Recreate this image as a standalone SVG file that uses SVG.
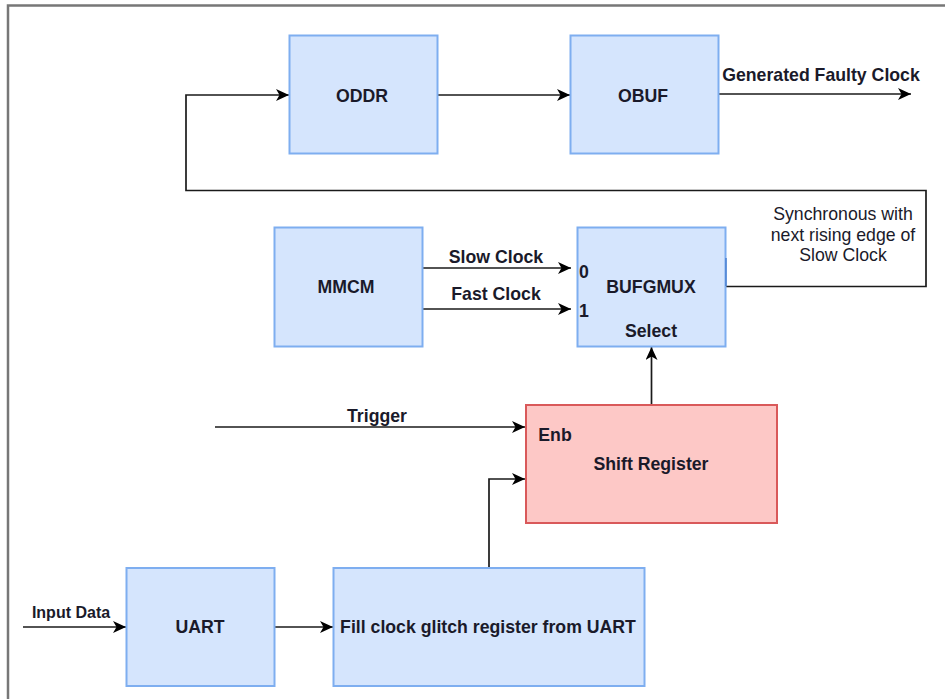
<svg xmlns="http://www.w3.org/2000/svg" width="945" height="699" viewBox="0 0 945 699">
<style>
.b{fill:#d5e5fd;stroke:#7eaef0;stroke-width:2}
.r{fill:#fdc8c6;stroke:#d9595a;stroke-width:2}
.c{fill:none;stroke:#1a1a1a;stroke-width:1.7}
.a{marker-end:url(#h)}
text{font-family:"Liberation Sans",Arial,sans-serif;font-size:17.700px;font-weight:700;fill:#1a1a2a;text-anchor:middle}
.n{font-weight:400}
.s{font-size:16px}
</style>
<defs><marker id="h" viewBox="0 0 14 12" refX="13" refY="6" markerWidth="14" markerHeight="12" markerUnits="userSpaceOnUse" orient="auto"><path d="M0 0L13 6L0 12L3.500 6Z" fill="#000"/></marker></defs>
<rect width="945" height="699" fill="#fff"/>
<path d="M8 699V5.500H945" fill="none" stroke="#777" stroke-width="2.500"/>
<g id="connectors">
<path class="c a" d="M437 95H570"/>
<path class="c a" d="M718 94H911"/>
<path class="c a" d="M726 286.500H926V190.500H186V95H289"/>
<path class="c a" d="M422 268H571"/>
<path class="c a" d="M422 309H571"/>
<path class="c a" d="M651.500 404V347"/>
<path class="c a" d="M215 427H525"/>
<path class="c a" d="M489 568V479H525"/>
<path class="c a" d="M23 627H126"/>
<path class="c a" d="M274 627H333"/>
</g>
<g id="oddr"><rect class="b" x="289.500" y="35.500" width="148" height="118"/><text x="362" y="102">ODDR</text></g>
<g id="obuf"><rect class="b" x="570.500" y="35.500" width="148" height="118"/><text x="643" y="102">OBUF</text></g>
<g id="mmcm"><rect class="b" x="274.500" y="227.500" width="148" height="119"/><text x="346" y="293">MMCM</text></g>
<g id="bufgmux"><rect class="b" x="577.500" y="227.500" width="148" height="119"/><path d="M726 258V286" fill="none" stroke="#4a7fd0" stroke-width="1.500"/><text x="651" y="293">BUFGMUX</text><text x="584" y="278">0</text><text x="584" y="317">1</text><text x="651" y="337">Select</text></g>
<g id="shift-register"><rect class="r" x="526" y="405" width="251" height="118"/><text x="651" y="470">Shift Register</text><text x="555" y="441">Enb</text></g>
<g id="uart"><rect class="b" x="126.500" y="568" width="148" height="118"/><text x="200" y="633">UART</text></g>
<g id="fill"><rect class="b" x="333.500" y="568" width="311" height="118"/><text x="488" y="633">Fill clock glitch register from UART</text></g>
<g id="labels">
<text x="821" y="81">Generated Faulty Clock</text>
<text x="496" y="263">Slow Clock</text>
<text x="496" y="300">Fast Clock</text>
<text x="377" y="422">Trigger</text>
<text class="s" x="71" y="618">Input Data</text>
<text class="n" x="843" y="220">Synchronous with</text>
<text class="n" x="843" y="241">next rising edge of</text>
<text class="n" x="843" y="261">Slow Clock</text>
</g>
</svg>
